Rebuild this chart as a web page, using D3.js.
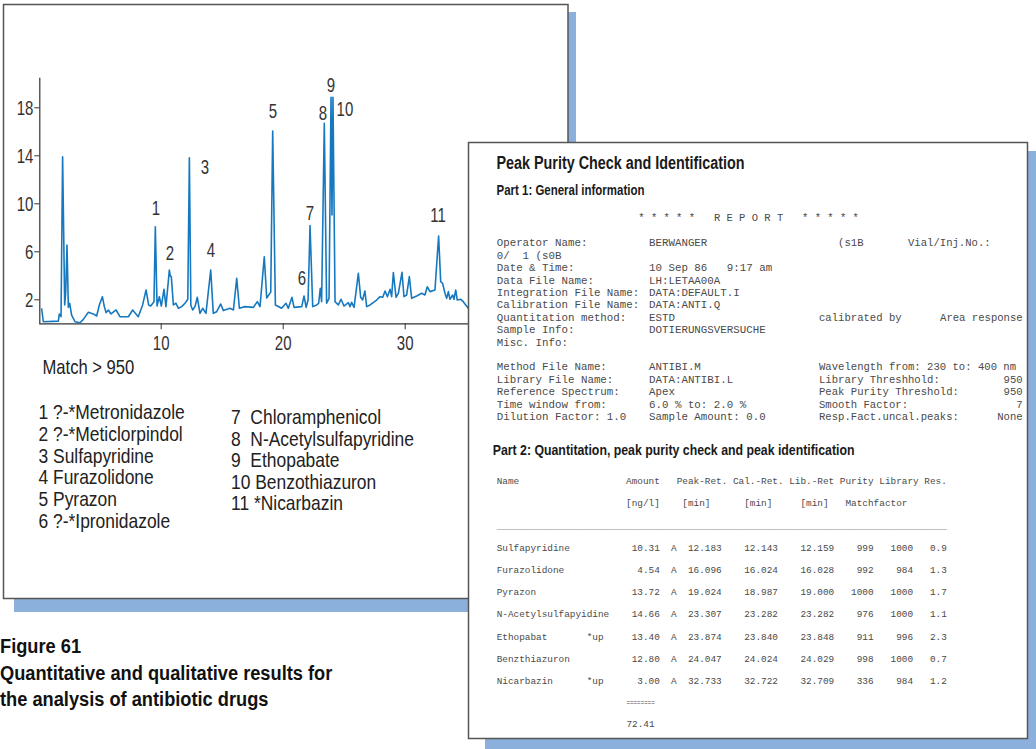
<!DOCTYPE html>
<html><head><meta charset="utf-8">
<script src="https://cdn.jsdelivr.net/npm/d3@7"></script>
<style>body{margin:0;background:#fff}svg{display:block}</style>
</head><body>
<svg id="c" width="1036" height="749"></svg>
<script>
// ---------- chromatogram data (time in min, signal) ----------
const retentionTimes = [0.24,0.38,1.61,1.69,1.83,1.96,2.13,2.21,2.32,2.43,2.54,2.70,2.98,3.39,3.66,4.07,4.48,4.75,4.97,5.22,5.38,5.52,5.71,5.93,6.34,6.66,7.35,7.70,8.16,8.52,8.80,9.01,9.18,9.45,9.56,9.70,9.89,10.05,10.27,10.43,10.71,10.79,10.87,11.04,11.25,11.45,11.72,11.99,12.22,12.35,12.47,12.62,12.81,13.00,13.22,13.44,13.71,14.10,14.31,14.59,14.92,15.14,15.68,15.96,16.23,16.45,16.91,17.60,17.92,18.14,18.49,18.69,19.02,19.18,19.40,19.91,20.27,20.46,20.76,20.93,21.56,21.75,21.92,22.08,22.24,22.46,22.79,22.95,23.08,23.19,23.41,23.60,23.80,23.96,24.04,24.12,24.29,24.56,24.78,25.02,25.38,25.52,25.65,25.85,26.20,26.39,26.55,26.74,26.88,27.16,27.70,27.98,28.20,28.39,28.58,28.80,28.93,29.07,29.29,29.48,29.78,29.94,30.16,30.38,30.57,30.98,31.39,31.66,31.85,32.07,32.48,32.78,32.95,33.11,33.30,33.44,33.58,33.71,33.93,34.04,34.18,34.31,34.59,34.80,35.21,35.60];
const signal = [1.25,0.13,0.18,0.78,0.55,13.88,1.53,2.50,6.53,1.33,1.67,0.69,0.13,0.05,0.33,0.92,0.78,0.61,1.53,2.22,1.39,0.89,1.11,0.78,1.11,0.55,0.55,1.11,0.55,1.53,2.78,1.53,1.44,1.80,8.05,1.44,2.22,1.44,2.83,1.39,4.44,3.94,3.89,1.53,1.67,1.25,1.39,1.67,2.00,13.80,1.50,1.11,1.39,2.17,0.83,1.25,0.83,4.44,0.83,0.97,1.61,1.06,1.25,1.11,3.75,1.25,1.39,1.33,1.81,1.39,5.55,2.11,2.60,16.03,1.53,1.25,1.67,1.25,2.17,1.33,1.39,2.28,1.33,1.94,8.14,1.39,1.53,1.67,2.92,1.80,16.67,1.67,2.08,18.83,9.03,18.83,1.80,1.53,2.00,1.44,1.72,1.39,1.75,1.33,4.17,2.17,1.94,2.69,1.39,1.53,1.94,2.22,2.17,2.69,2.22,2.83,2.22,4.22,2.17,2.50,4.25,2.22,2.36,3.89,2.08,2.28,2.50,2.36,3.05,2.64,2.78,7.28,3.47,3.33,2.50,2.08,2.64,2.00,2.36,2.00,2.78,1.94,2.00,1.80,1.25,1.00];

const xTickValues = [10, 20, 30];
const yTickValues = [2, 6, 10, 14, 18];

// peak number annotations (time, signal height of label centre)
const peakLabels  = ["1","2","3","4","5","6","7","8","9","10","11"];
const peakLabelT  = [9.61,10.76,13.63,14.12,19.20,21.58,22.24,23.30,23.96,25.10,32.73];
const peakLabelV  = [9.60,5.86,13.03,6.10,17.70,3.78,9.19,17.53,19.86,17.86,9.03];

const legendTitle = "Match > 950";
const legendNumbers = ["1","2","3","4","5","6","7","8","9","10","11"];
const legendNames = ["?-*Metronidazole","?-*Meticlorpindol","Sulfapyridine","Furazolidone","Pyrazon","?-*Ipronidazole",
                     "Chloramphenicol","N-Acetylsulfapyridine","Ethopabate","Benzothiazuron","*Nicarbazin"];

const captionLines = ["Figure 61","Quantitative and qualitative results for","the analysis of antibiotic drugs"];

// ---------- report data ----------
const reportTitle = "Peak Purity Check and Identification";
const part1Title = "Part 1: General information";
const part2Title = "Part 2: Quantitation, peak purity check and peak identification";
const reportBanner = "* * * * *   R E P O R T   * * * * *";
const infoLabels = ["Operator Name:","0/  1 (s0B","Date & Time:","Data File Name:","Integration File Name:","Calibration File Name:","Quantitation method:","Sample Info:","Misc. Info:","","Method File Name:","Library File Name:","Reference Spectrum:","Time window from:","Dilution Factor: 1.0"];
const infoValues = ["BERWANGER","","10 Sep 86   9:17 am","LH:LETAA00A","DATA:DEFAULT.I","DATA:ANTI.Q","ESTD","DOTIERUNGSVERSUCHE","","","ANTIBI.M","DATA:ANTIBI.L","Apex","6.0 % to: 2.0 %","Sample Amount: 0.0"];
const infoRightLabels = ["   (s1B       Vial/Inj.No.:","","","","","","calibrated by","","","","Wavelength from: 230 to: 400 nm","Library Threshhold:","Peak Purity Threshold:","Smooth Factor:","Resp.Fact.uncal.peaks:"];
const infoRightValues = ["","","","","","","Area response","","","","","950","950","7","None"];

const tableHeader1 = "Name                   Amount   Peak-Ret. Cal.-Ret. Lib.-Ret Purity Library Res.";
const tableHeader2 = "                       [ng/l]    [min]      [min]     [min]   Matchfactor";
const compoundNames = ["Sulfapyridine","Furazolidone","Pyrazon","N-Acetylsulfapyidine","Ethopabat","Benzthiazuron","Nicarbazin"];
const compoundFlags = ["","","","","*up","","*up"];
const amounts   = ["10.31","4.54","13.72","14.66","13.40","12.80","3.00"];
const peakRet   = ["12.183","16.096","19.024","23.307","23.874","24.047","32.733"];
const calRet    = ["12.143","16.024","18.987","23.282","23.840","24.024","32.722"];
const libRet    = ["12.159","16.028","19.000","23.282","23.848","24.029","32.709"];
const purity    = ["999","992","1000","976","911","998","336"];
const libMatch  = ["1000","984","1000","1000","996","1000","984"];
const resolution= ["0.9","1.3","1.7","1.1","2.3","0.7","1.2"];
const totalAmount = "72.41";

// ---------- drawing ----------
const svg = d3.select("#c");
const SANS = "'Liberation Sans',Arial,sans-serif";
const MONO = "'Liberation Mono','Courier New',monospace";
const SHADOW = "#8cb0dc";
const tr = (x, y, s) => `translate(${x},${y}) scale(${s},1)`;

// left panel
svg.append("rect").attr("x",14).attr("y",12).attr("width",562).attr("height",600).attr("fill",SHADOW);
svg.append("rect").attr("x",3.5).attr("y",4.5).attr("width",564.5).attr("height",594).attr("fill","#fff").attr("stroke","#555").attr("stroke-width",1.5);

const x = d3.scaleLinear().domain([0, 35.6]).range([38.7, 38.7 + 35.6 * 12.2]);
const y = d3.scaleLinear().domain([0, 20.5]).range([323.3, 77.3]);

const gx = svg.append("g").attr("transform","translate(0,323.3)")
  .call(d3.axisBottom(x).tickValues(xTickValues).tickSize(6).tickSizeOuter(0).tickPadding(4).tickFormat(d3.format("d")));
const gy = svg.append("g").attr("transform","translate(39.3,0)")
  .call(d3.axisLeft(y).tickValues(yTickValues).tickSize(5).tickSizeOuter(0).tickPadding(1).tickFormat(d3.format("d")));
[gx, gy].forEach(g => {
  g.selectAll("path.domain").attr("stroke","#333").attr("stroke-width",1.2);
  g.selectAll(".tick line").attr("stroke","#333");
  g.selectAll(".tick text").attr("font-family",SANS).attr("font-size",20).attr("fill","#333");
});
gy.selectAll(".tick text").attr("x",0).attr("dy","0.35em").attr("transform","translate(-6,0) scale(0.75,1)");
gx.selectAll(".tick text").attr("dy","0.85em").attr("transform","scale(0.75,1)");

const pts = retentionTimes.map((t,i) => [t, signal[i]]);
svg.append("path").datum(pts)
  .attr("d", d3.line().x(d => x(d[0])).y(d => y(d[1])))
  .attr("fill","none").attr("stroke","#1679bf").attr("stroke-width",1.6).attr("stroke-linejoin","round");

svg.append("g").selectAll("text").data(peakLabels).join("text")
  .attr("transform",(d,i)=>tr(x(peakLabelT[i]), y(peakLabelV[i]), 0.75))
  .attr("text-anchor","middle").attr("dominant-baseline","central")
  .attr("font-family",SANS).attr("font-size",20).attr("fill","#333").text(d=>d);

svg.append("text").attr("transform",tr(42.5,366.7,0.81)).attr("dominant-baseline","central")
  .attr("font-family",SANS).attr("font-size",20.5).attr("fill","#222").text(legendTitle);

svg.append("g").selectAll("text").data(legendNames).join("text")
  .attr("transform",(d,i)=> tr(i < 6 ? 38.5 : 231, i < 6 ? 411.7 + i*21.9 : 417 + (i-6)*21.6, 0.85))
  .attr("dominant-baseline","central").attr("font-family",SANS).attr("font-size",20.5).attr("fill","#222")
  .attr("xml:space","preserve").style("white-space","pre")
  .text((d,i)=> legendNumbers[i] + (i >= 6 && legendNumbers[i].length === 1 ? "  " : " ") + d);

svg.append("g").selectAll("text").data(captionLines).join("text")
  .attr("transform",(d,i)=>tr(0, 646 + i*26.5, 0.89)).attr("dominant-baseline","central")
  .attr("font-family",SANS).attr("font-weight","bold").attr("font-size",20.5).attr("fill","#111").text(d=>d);

// right panel
svg.append("rect").attr("x",485).attr("y",151).attr("width",551).attr("height",598).attr("fill",SHADOW);
svg.append("rect").attr("x",468.5).attr("y",142.5).attr("width",559).attr("height",596).attr("fill","#fff").attr("stroke","#555").attr("stroke-width",1.5);

svg.append("text").attr("transform",tr(496.5,169.3,0.816)).attr("font-family",SANS).attr("font-weight","bold").attr("font-size",17.6).attr("fill","#1a1a1a").text(reportTitle);
svg.append("text").attr("transform",tr(496.5,195,0.82)).attr("font-family",SANS).attr("font-weight","bold").attr("font-size",14).attr("fill","#1a1a1a").text(part1Title);
svg.append("text").attr("transform",tr(492.7,455,0.85)).attr("font-family",SANS).attr("font-weight","bold").attr("font-size",14.5).attr("fill","#1a1a1a").text(part2Title);

function mono(sel, size){
  return sel.attr("font-family",MONO).attr("font-size",size).attr("fill","#4a4a4a")
    .attr("xml:space","preserve").style("white-space","pre").attr("dominant-baseline","central");
}
mono(svg.append("text").attr("x",638.3).attr("y",218.3), 10.5).text(reportBanner);

const rowY = i => 243.3 + i*12.4;
mono(svg.append("g").selectAll("text").data(infoLabels).join("text").attr("x",496.7).attr("y",(d,i)=>rowY(i)),10.8).text(d=>d);
mono(svg.append("g").selectAll("text").data(infoValues).join("text").attr("x",649).attr("y",(d,i)=>rowY(i)),10.8).text(d=>d);
mono(svg.append("g").selectAll("text").data(infoRightLabels).join("text").attr("x",819).attr("y",(d,i)=>rowY(i)),10.6).text(d=>d);
mono(svg.append("g").selectAll("text").data(infoRightValues).join("text").attr("x",1022.7).attr("y",(d,i)=>rowY(i)).attr("text-anchor","end"),10.6).text(d=>d);

const TX = 496.7, TS = 9.4, CW = 5.64;
mono(svg.append("text").attr("x",TX).attr("y",481.7),TS).text(tableHeader1);
mono(svg.append("text").attr("x",TX).attr("y",503.3),TS).text(tableHeader2);
mono(svg.append("text").attr("x",TX).attr("y",526),TS).attr("fill","#777").text("_".repeat(80));
const rows = compoundNames.map((n,i) =>
  ((n.padEnd(16) + compoundFlags[i]).padEnd(24)) + amounts[i].padStart(5) + "  A  " + peakRet[i] + "    " + calRet[i] + "    " + libRet[i] +
  purity[i].padStart(7) + libMatch[i].padStart(7) + resolution[i].padStart(6));
mono(svg.append("g").selectAll("text").data(rows).join("text").attr("x",TX).attr("y",(d,i)=>548.3 + i*22.23),TS).text(d=>d);
mono(svg.append("text").attr("x",TX + 23*CW).attr("y",702.7),TS).attr("textLength",28.5).attr("lengthAdjust","spacingAndGlyphs").text("========");
mono(svg.append("text").attr("x",TX + 23*CW).attr("y",724),TS).text(totalAmount);
</script>
</body></html>
